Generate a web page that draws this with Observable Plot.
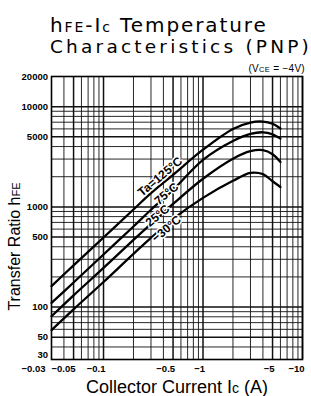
<!DOCTYPE html>
<html><head><meta charset="utf-8">
<script src="https://cdn.jsdelivr.net/npm/d3@7"></script>
<script src="https://cdn.jsdelivr.net/npm/@observablehq/plot@0.6"></script>
<style>
body{margin:0;background:#fff;}
#wrap{position:relative;width:311px;height:396px;overflow:hidden;background:#fff;}
.t{position:absolute;left:50px;font-family:"DejaVu Sans",sans-serif;white-space:nowrap;color:#000;}
#t1{top:14.6px;font-size:20px;line-height:20px;letter-spacing:1.9px;}
#t2{top:37.8px;font-size:18.5px;line-height:18.5px;letter-spacing:3.2px;}
.sc{font-size:14px;}
#vce{position:absolute;right:6px;top:64px;font-family:"Liberation Sans",Arial,sans-serif;font-size:10px;line-height:10px;white-space:nowrap;z-index:2;letter-spacing:0.3px;}
#vce .s{font-size:7.5px;}
#chart{position:absolute;left:0;top:62px;}
</style></head><body>
<div id="wrap">
<div class="t" id="t1">h<span class="sc">FE</span>-I<span class="sc">c</span> Temperature</div>
<div class="t" id="t2">Characteristics (PNP)</div>
<div id="vce">(V<span class="s">CE</span> = −4V)</div>
<div id="chart"></div>
</div>
<script>
// Collector current |Ic| (A)
const ic = [0.03, 0.05, 0.1, 0.2, 0.3, 0.5, 1, 2, 3, 4, 5, 6];
// hFE per ambient temperature
const h125 = [162, 261, 495, 942, 1370, 2090, 3720, 6000, 6950, 7100, 6750, 6050];
const h75  = [110, 176, 335, 637, 936, 1480, 2950, 4550, 5350, 5550, 5300, 4800];
const h25  = [81, 131, 246, 469, 676, 1070, 1910, 3030, 3600, 3680, 3350, 2800];
const hm30 = [59, 95, 178, 340, 490, 760, 1230, 1820, 2180, 2120, 1800, 1580];
const seriesNames = ["125", "75", "25", "-30"];
// curve labels and their anchor (data coords)
const curveLabels = ["Ta=125°C", "75°C", "25°C", "−30°C"];
const labelIc = [0.37, 0.43, 0.35, 0.43];
const labelH = [2000, 1350, 815, 604];
// tick labels
const xTickVals = [0.03, 0.05, 0.1, 0.5, 1, 5, 10];
const xTickText = ["−0.03", "−0.05", "−0.1", "−0.5", "−1", "−5", "−10"];
const yTickVals = [20000, 10000, 5000, 1000, 500, 100, 50, 30];
const yTickText = ["20000", "10000", "5000", "1000", "500", "100", "50", "30"];

const xDomain = [0.03, 10];
const yDomain = [30, 20000];

// log grid
const xGrid = [];
for (const dec of [0.01, 0.1, 1]) for (let k = 1; k <= 9; k++) { const v = +(k * dec).toPrecision(3); if (v >= 0.03 && v <= 10) xGrid.push(v); }
xGrid.push(10);
const yGrid = [];
for (const dec of [10, 100, 1000, 10000]) for (let k = 1; k <= 9; k++) { const v = k * dec; if (v >= 30 && v <= 20000) yGrid.push(v); }
const isMajor = v => { const m = v / Math.pow(10, Math.floor(Math.log10(v) + 1e-9)); return Math.abs(m - 1) < 1e-6 || Math.abs(m - 5) < 1e-6; };

const allSeries = [h125, h75, h25, hm30];
const rows = [];
allSeries.forEach((arr, si) => arr.forEach((h, i) => rows.push({ic: ic[i], h, s: seriesNames[si]})));
const labelRows = curveLabels.map((t, i) => ({t, ic: labelIc[i], h: labelH[i]}));
const xt = xTickVals.map((v, i) => ({v, t: xTickText[i]}));
const yt = yTickVals.map((v, i) => ({v, t: yTickText[i]}));

const tickFont = {fontFamily: "Liberation Sans, Arial, sans-serif", fontSize: 9.5, fontWeight: "bold", fill: "black"};

const svg = Plot.plot({
  width: 311, height: 334,
  marginTop: 14, marginBottom: 37, marginLeft: 51, marginRight: 9,
  x: {type: "log", domain: xDomain, axis: null},
  y: {type: "log", domain: yDomain, axis: null},
  marks: [
    Plot.ruleX(xGrid, {x: d => d, stroke: "#111", strokeWidth: d => isMajor(d) ? 1.5 : 0.9}),
    Plot.ruleY(yGrid, {y: d => d, stroke: "#111", strokeWidth: d => isMajor(d) ? 1.5 : 0.9}),
    Plot.frame({stroke: "black", strokeWidth: 1.6}),
    Plot.line(rows, {x: "ic", y: "h", z: "s", stroke: "black", strokeWidth: 2.3, curve: "catmull-rom"}),
    Plot.text(labelRows, {x: "ic", y: "h", text: "t", rotate: -40, fontSize: 12, fontWeight: 600,
      fontFamily: "Liberation Sans, Arial, sans-serif", fill: "black", stroke: "white", strokeWidth: 3, paintOrder: "stroke"}),
    Plot.text(xt.slice(0, 1), {x: "v", y: () => yDomain[0], text: "t", dy: 9, dx: -6, textAnchor: "end", ...tickFont}),
    Plot.text(xt.slice(1), {x: "v", y: () => yDomain[0], text: "t", dy: 9, dx: 2, textAnchor: "end", ...tickFont}),
    Plot.text(yt.filter(d => d.v !== 30), {x: () => xDomain[0], y: "v", text: "t", dx: -3.5, textAnchor: "end", ...tickFont}),
    Plot.text(yt.filter(d => d.v === 30), {x: () => xDomain[0], y: "v", text: "t", dx: -3.5, dy: -5, textAnchor: "end", ...tickFont})
  ]
});
document.getElementById("chart").appendChild(svg);

const s = d3.select(svg);
const yl = s.append("text")
  .attr("transform", "translate(20,184.5) rotate(-90)")
  .attr("text-anchor", "middle")
  .attr("font-family", "Liberation Sans, Arial, sans-serif")
  .attr("font-size", 16).attr("fill", "black");
yl.append("tspan").text("Transfer Ratio h");
yl.append("tspan").attr("font-size", 11).text("FE");
const xl = s.append("text")
  .attr("x", 177).attr("y", 331)
  .attr("text-anchor", "middle")
  .attr("font-family", "Liberation Sans, Arial, sans-serif")
  .attr("font-size", 18).attr("fill", "black");
xl.append("tspan").text("Collector Current I");
xl.append("tspan").attr("font-size", 14).text("c");
xl.append("tspan").text(" (A)");
</script>
</body></html>
